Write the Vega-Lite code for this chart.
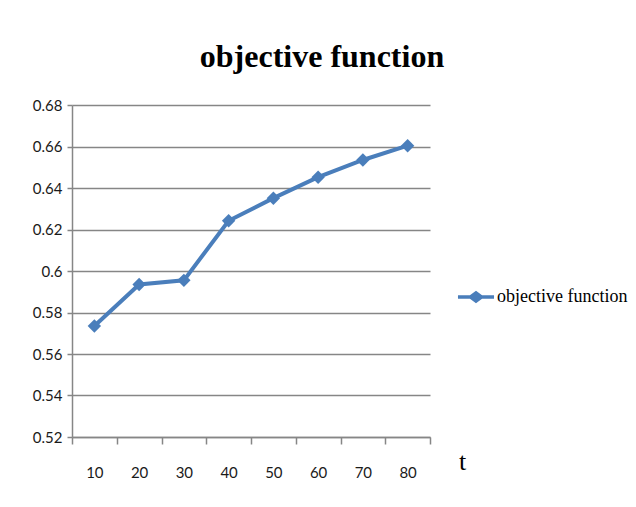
{
  "$schema": "https://vega.github.io/schema/vega-lite/v6.json",
  "autosize": {"type": "none"},
  "width": 358,
  "height": 332,
  "padding": {"left": 72, "top": 105, "right": 206, "bottom": 70},
  "background": "white",
  "config": {"view": {"stroke": null}},
  "title": {
    "text": "objective function",
    "font": "Liberation Serif",
    "fontSize": 32,
    "fontWeight": "bold",
    "color": "#000000",
    "anchor": "middle",
    "dx": 71,
    "offset": 24
  },
  "data": {
    "values": [
      {"t": 10, "value": 0.5735, "series": "objective function"},
      {"t": 20, "value": 0.5935, "series": "objective function"},
      {"t": 30, "value": 0.5955, "series": "objective function"},
      {"t": 40, "value": 0.6242, "series": "objective function"},
      {"t": 50, "value": 0.6351, "series": "objective function"},
      {"t": 60, "value": 0.6452, "series": "objective function"},
      {"t": 70, "value": 0.6535, "series": "objective function"},
      {"t": 80, "value": 0.6604, "series": "objective function"}
    ]
  },
  "encoding": {
    "x": {
      "field": "t",
      "type": "quantitative",
      "scale": {"domain": [5, 85], "nice": false, "zero": false},
      "axis": {
        "title": "t",
        "titleFont": "Liberation Serif",
        "titleFontSize": 26,
        "titleFontWeight": "normal",
        "titleColor": "#000000",
        "titleX": 390,
        "titleY": 24,
        "titleAlign": "center",
        "titleBaseline": "middle",
        "values": [5, 10, 15, 20, 25, 30, 35, 40, 45, 50, 55, 60, 65, 70, 75, 80, 85],
        "labelExpr": "datum.value % 10 == 0 ? datum.label : ''",
        "tickOpacity": {"expr": "datum.value % 10 == 5 ? 1 : 0"},
        "grid": false,
        "domainColor": "#868686",
        "domainWidth": 1.5,
        "tickColor": "#868686",
        "tickWidth": 1.5,
        "tickSize": 7,
        "labelPadding": 21,
        "labelFont": "Lato",
        "labelFontSize": 15,
        "labelColor": "#1a1a1a",
        "labelFlush": false,
        "labelOverlap": false
      }
    },
    "y": {
      "field": "value",
      "type": "quantitative",
      "scale": {"domain": [0.52, 0.68], "nice": false, "zero": false},
      "axis": {
        "title": null,
        "values": [0.52, 0.54, 0.56, 0.58, 0.6, 0.62, 0.64, 0.66, 0.68],
        "format": ".2~f",
        "grid": true,
        "gridColor": "#868686",
        "gridWidth": 1.5,
        "domainColor": "#868686",
        "domainWidth": 1.5,
        "tickColor": "#868686",
        "tickWidth": 1.5,
        "tickSize": 5,
        "labelPadding": 5,
        "labelFont": "Lato",
        "labelFontSize": 15,
        "labelColor": "#1a1a1a",
        "labelFlush": false,
        "labelOverlap": false
      }
    }
  },
  "layer": [
    {
      "mark": {"type": "line", "strokeWidth": 4, "color": "#4a7ebb"},
      "encoding": {
        "color": {
          "field": "series",
          "type": "nominal",
          "scale": {"range": ["#4a7ebb"]},
          "legend": {
            "title": null,
            "orient": "none",
            "legendX": 384,
            "legendY": 172,
            "symbolType": "M-1,0H1M-0.3,0L0,-0.22L0.3,0L0,0.22Z",
            "symbolSize": 1300,
            "symbolStrokeWidth": 3.5,
            "symbolStrokeColor": "#4a7ebb",
            "symbolFillColor": "#4a7ebb",
            "labelFont": "Liberation Serif",
            "labelFontSize": 18,
            "labelColor": "#000000",
            "labelOffset": 1
          }
        }
      }
    },
    {
      "mark": {"type": "point", "shape": "diamond", "filled": true, "size": 180, "color": "#4a7ebb", "opacity": 1}
    }
  ]
}
